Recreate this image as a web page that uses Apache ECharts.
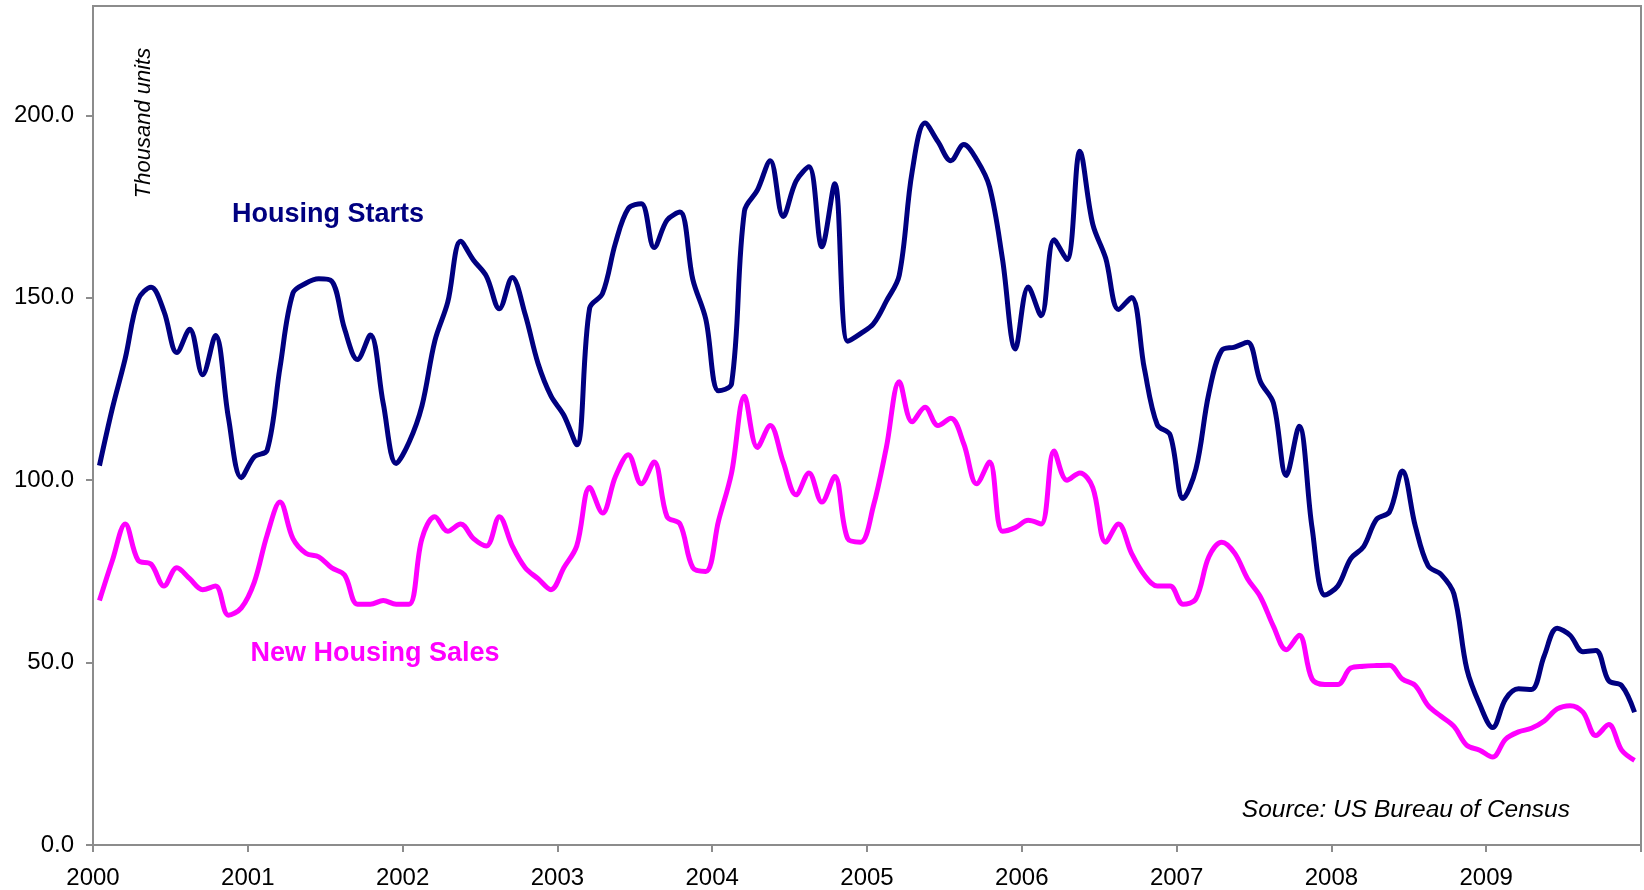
<!DOCTYPE html>
<html>
<head>
<meta charset="utf-8">
<script src="https://cdn.jsdelivr.net/npm/echarts@6/dist/echarts.min.js"></script>
<style>
html,body{margin:0;padding:0;background:#fff;}
#chart{width:1644px;height:890px;}
</style>
</head>
<body>
<div id="chart"></div>
<script>
// Years shown on the x axis (one category = one month, 12 per year)
var years = ['2000','2001','2002','2003','2004','2005','2006','2007','2008','2009'];
var yTicks = [0, 50, 100, 150, 200];

// Housing Starts, thousand units, monthly Jan 2000 - Dec 2009
var housingStarts = [
  104.0, 119.7, 133.4, 149.5, 152.9, 146.3, 135.0, 141.4, 128.9, 139.7, 117.1, 100.7,
  106.4, 108.2, 131.0, 151.3, 154.0, 155.2, 154.6, 141.5, 133.1, 139.8, 121.0, 104.6,
  110.4, 120.4, 138.2, 148.8, 165.5, 160.3, 155.9, 147.0, 155.6, 145.5, 132.0, 123.1,
  117.8, 109.7, 147.2, 151.2, 165.0, 174.5, 175.8, 163.8, 171.3, 173.5, 155.0, 144.2,
  124.5, 126.4, 173.8, 179.5, 187.6, 172.3, 182.0, 185.9, 164.0, 181.3, 138.1, 140.2,
  142.9, 149.1, 156.2, 184.6, 197.9, 192.8, 187.6, 192.0, 187.9, 180.4, 160.7, 136.0,
  153.0, 145.1, 165.9, 160.5, 190.2, 170.2, 160.9, 146.8, 150.1, 130.6, 115.2, 112.4,
  95.0, 103.1, 123.8, 135.6, 136.5, 137.8, 127.0, 121.2, 101.3, 114.8, 87.0, 68.5,
  71.0, 78.5, 81.8, 89.3, 91.3, 102.5, 87.5, 76.5, 74.2, 68.8, 48.2, 38.5,
  32.2, 40.0, 42.8, 42.6, 51.9, 59.4, 57.5, 53.0, 53.3, 45.0, 43.7, 36.4
];

// New Housing Sales, thousand units, monthly Jan 2000 - Dec 2009
var newHomeSales = [
  67, 78, 88, 78, 77, 71, 76, 73, 70, 71, 63, 65,
  72, 85, 94, 84, 80, 79, 76, 74, 66, 66, 67, 66,
  66, 84, 90, 86, 88, 84, 82, 90, 82, 76, 73, 70,
  76, 82, 98, 91, 101, 107, 99, 105, 90, 88, 76, 75,
  89, 102, 123, 109, 115, 105, 96, 102, 94, 101, 84, 83,
  93, 109, 127, 116, 120, 115, 117, 110, 99, 105, 86, 87,
  89, 88, 108, 100, 102, 98, 83, 88, 80, 74, 71, 71,
  66, 67.5, 79, 83, 80, 73, 68, 60, 53.5, 57.5, 45.5, 44,
  44, 48.5, 49, 49.2, 49.3, 45.5, 43.7, 38.2, 35.3, 32.5, 27.3, 26,
  24.1, 29, 31, 32, 34, 37.3, 38.2, 36.4, 30, 33, 26, 23.2
];

function toPoints(arr) {
  return arr.map(function (v, i) { return [i + 0.5, v]; });
}

var FONT = '"Liberation Sans", Arial, sans-serif';
var AXIS_GRAY = '#8c8c8c';

var chart = echarts.init(document.getElementById('chart'), null, {renderer: 'canvas'});
chart.setOption({
  animation: false,
  backgroundColor: '#ffffff',
  grid: {
    left: 93, right: 2, top: 6, bottom: 44,
    show: true, borderColor: AXIS_GRAY, borderWidth: 2, backgroundColor: 'transparent'
  },
  xAxis: {
    type: 'value',
    min: 0, max: years.length * 12, interval: 12,
    splitLine: {show: false},
    axisLine: {show: true, onZero: false, lineStyle: {color: AXIS_GRAY, width: 2}},
    axisTick: {show: true, inside: false, length: 7, lineStyle: {color: AXIS_GRAY, width: 2}},
    axisLabel: {
      margin: 21,
      color: '#000', fontFamily: FONT, fontSize: 24,
      formatter: function (v) {
        var k = Math.round(v / 12);
        return k < years.length ? years[k] : '';
      }
    }
  },
  yAxis: {
    type: 'value',
    min: 0, max: 230, interval: 50,
    splitLine: {show: false},
    axisLine: {show: true, lineStyle: {color: AXIS_GRAY, width: 2}},
    axisTick: {show: true, inside: false, length: 7, customValues: yTicks, lineStyle: {color: AXIS_GRAY, width: 2}},
    axisLabel: {
      margin: 19,
      customValues: yTicks,
      color: '#000', fontFamily: FONT, fontSize: 24,
      formatter: function (v) { return yTicks.indexOf(v) >= 0 ? v.toFixed(1) : ''; }
    }
  },
  series: [
    {
      name: 'Housing Starts', type: 'line', data: toPoints(housingStarts),
      smooth: 0.35, symbol: 'none',
      lineStyle: {color: '#000080', width: 5}
    },
    {
      name: 'New Housing Sales', type: 'line', data: toPoints(newHomeSales),
      smooth: 0.35, symbol: 'none',
      lineStyle: {color: '#ff00ff', width: 5}
    }
  ],
  graphic: [
    {type: 'text', x: 328, y: 215,
      style: {text: 'Housing Starts', fill: '#000080', font: 'bold 27px ' + FONT, textAlign: 'center', textVerticalAlign: 'middle'}},
    {type: 'text', x: 375, y: 654,
      style: {text: 'New Housing Sales', fill: '#ff00ff', font: 'bold 27px ' + FONT, textAlign: 'center', textVerticalAlign: 'middle'}},
    {type: 'text', x: 144, y: 123, rotation: Math.PI / 2,
      style: {text: 'Thousand units', fill: '#000', font: 'italic 22px ' + FONT, textAlign: 'center', textVerticalAlign: 'middle'}},
    {type: 'text', x: 1570, y: 810,
      style: {text: 'Source: US Bureau of Census', fill: '#000', font: 'italic 24.5px ' + FONT, textAlign: 'right', textVerticalAlign: 'middle'}}
  ]
});
</script>
</body>
</html>
